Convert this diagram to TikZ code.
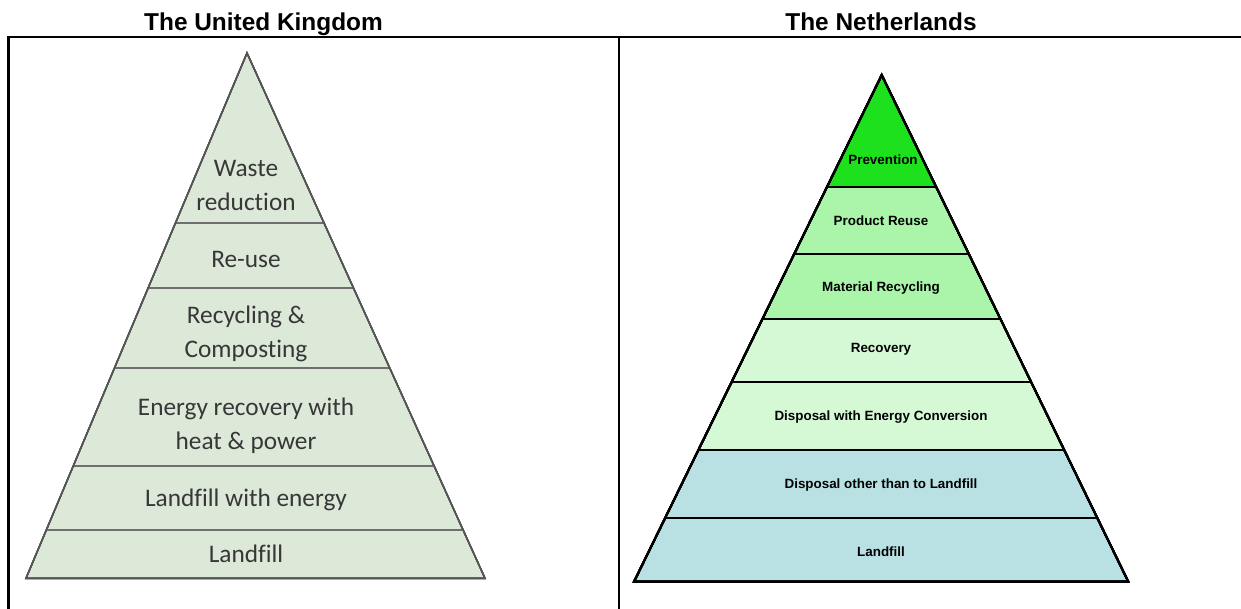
\documentclass[tikz,border=0pt]{standalone}
\usepackage{fontspec}
\setmainfont{Liberation Sans}
\newfontfamily\fuenteuk[Ligatures=NoCommon]{Carlito}
\usetikzlibrary{calc}

\definecolor{ukverde}{RGB}{220,232,216}
\definecolor{ukborde}{RGB}{85,85,85}
\definecolor{uktexto}{RGB}{55,55,55}
\definecolor{nlverdea}{RGB}{30,225,30}
\definecolor{nlverdeb}{RGB}{170,245,170}
\definecolor{nlverdec}{RGB}{213,248,213}
\definecolor{nlazul}{RGB}{185,224,227}

\begin{document}
\begin{tikzpicture}[x=1pt,y=-1pt]
% estilos de linea, relleno y texto
\tikzstyle{marco} = [line width=2.2pt]
\tikzstyle{titulo} = [font=\fontsize{24.4}{28}\selectfont\bfseries]
\tikzstyle{bordeuk} = [draw=ukborde,line width=1.4pt,line join=miter]
\tikzstyle{sepuk} = [draw=ukborde!85,line width=2.2pt]
\tikzstyle{textouk} = [text=uktexto,align=center,font=\fuenteuk\fontsize{25.3}{34}\selectfont]
\tikzstyle{bordenl} = [draw=black,line width=2pt]
\tikzstyle{textonl} = [font=\fontsize{13.4}{16}\selectfont\bfseries]
% definicion capa de piramide
% #1: vertice superior
% #2: esquina inferior izquierda
% #3: esquina inferior derecha
% #4: fraccion del borde superior de la capa
% #5: fraccion del borde inferior de la capa
% #6: estilo de relleno
\newcommand{\capa}[6]{
\fill [#6] ($#1!#4!#2$) -- ($#1!#5!#2$) -- ($#1!#5!#3$) -- ($#1!#4!#3$) -- cycle;
 }
% definicion linea divisoria
% #1: vertice superior
% #2: esquina inferior izquierda
% #3: esquina inferior derecha
% #4: fraccion de la linea
% #5: estilo de linea
\newcommand{\divisoria}[5]{
\draw [#5] ($#1!#4!#2$) -- ($#1!#4!#3$);
 }
\useasboundingbox (0,0) rectangle (1241,609);
% --------------------------------------
% marco y titulos
% --------------------------------------
\draw [marco] (8.5,609) -- (8.5,37) -- (1241,37);
\draw [marco] (619,37) -- (619,609);
\node [titulo,anchor=base] (tituk) at (263.5,30.7) {The United Kingdom};
\node [titulo,anchor=base] (titnl) at (881,30.7) {The Netherlands};
% --------------------------------------
% piramide del Reino Unido
% --------------------------------------
\coordinate (UA) at (247,53);
\coordinate (UL) at (26,578.3);
\coordinate (UR) at (485,578.3);
\capa{(UA)}{(UL)}{(UR)}{0}{1}{ukverde}
\foreach \t in {0.323,0.448,0.600,0.786,0.908}
  \divisoria{(UA)}{(UL)}{(UR)}{\t}{sepuk}
\draw [bordeuk] (UA) -- (UL) -- (UR) -- cycle;
\node [textouk] (reduc) at (246,185) {Waste\\reduction};
\node [textouk] (reuso) at (246,259.5) {Re-use};
\node [textouk] (recom) at (246,334) {Recycling \&\\Composting};
\node [textouk] (energ) at (246,425.7) {Energy recovery with\\heat \& power};
\node [textouk] (vertene) at (246,499.7) {Landfill with energy};
\node [textouk] (vertuk) at (246,553.5) {Landfill};
% --------------------------------------
% piramide de los Paises Bajos
% --------------------------------------
\coordinate (NA) at (881.7,75);
\coordinate (NL) at (634,581.7);
\coordinate (NR) at (1128.3,581.7);
\capa{(NA)}{(NL)}{(NR)}{0}{0.2216}{nlverdea}
\capa{(NA)}{(NL)}{(NR)}{0.2216}{0.4815}{nlverdeb}
\capa{(NA)}{(NL)}{(NR)}{0.4815}{0.740}{nlverdec}
\capa{(NA)}{(NL)}{(NR)}{0.740}{1}{nlazul}
\foreach \t in {0.2216,0.353,0.4815,0.6065,0.740,0.8737}
  \divisoria{(NA)}{(NL)}{(NR)}{\t}{bordenl}
\draw [bordenl] (NA) -- (NL) -- (NR) -- cycle;
\node [textonl] (prev) at (883,159.3) {Prevention};
\node [textonl] (reusop) at (881,220.7) {Product Reuse};
\node [textonl] (recmat) at (881,288.3) {Material Recycling};
\node [textonl] (recup) at (881,349) {Recovery};
\node [textonl] (dispene) at (881,416.7) {Disposal with Energy Conversion};
\node [textonl] (dispotr) at (881,485) {Disposal other than to Landfill};
\node [textonl] (vertnl) at (881,551.7) {Landfill};
% --------------------------------------
\end{tikzpicture}
\end{document}
